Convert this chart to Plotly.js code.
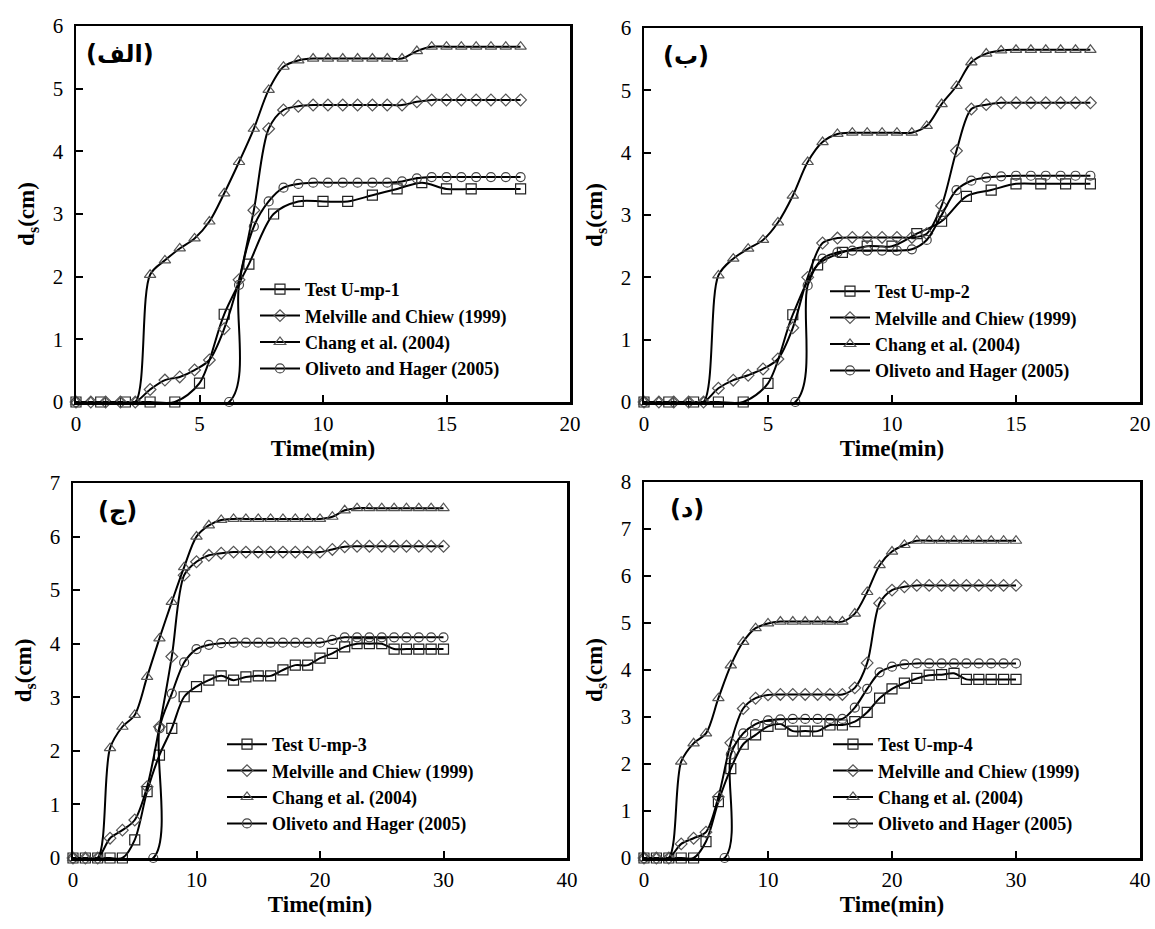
<!DOCTYPE html>
<html>
<head>
<meta charset="utf-8">
<script src="https://cdn.plot.ly/plotly-3.0.1.min.js"></script>
<style>html,body{margin:0;padding:0;background:#fff;}</style>
</head>
<body>
<div id="chart" style="width:1155px;height:929px;"></div>
<script>
// ---------- DATA ----------
const seriesNames = ["Melville and Chiew (1999)", "Chang et al. (2004)", "Oliveto and Hager (2005)"];
const testNames = ["Test U-mp-1", "Test U-mp-2", "Test U-mp-3", "Test U-mp-4"];
const panelLabels = ["(الف)", "(ب)", "(ج)", "(د)"];

// Panel 1 (الف)
const tModel1 = [0,0.6,1.2,1.8,2.4,3,3.6,4.2,4.8,5.4,6,6.6,7.2,7.8,8.4,9,9.6,10.2,10.8,11.4,12,12.6,13.2,13.8,14.4,15,15.6,16.2,16.8,17.4,18];
const melville1 = [0,0,0,0,0,0.2,0.35,0.4,0.51,0.67,1.17,1.95,3.06,4.36,4.66,4.72,4.74,4.74,4.74,4.74,4.74,4.74,4.74,4.79,4.82,4.82,4.82,4.82,4.82,4.82,4.82];
const chang1 = [0,0,0,0,0,2.03,2.26,2.45,2.61,2.88,3.33,3.83,4.36,4.98,5.35,5.45,5.48,5.48,5.48,5.48,5.48,5.48,5.48,5.6,5.67,5.67,5.67,5.67,5.67,5.67,5.67];
const tOliveto1 = [0,6.2,6.6,7.2,7.8,8.4,9,9.6,10.2,10.8,11.4,12,12.6,13.2,13.8,14.4,15,15.6,16.2,16.8,17.4,18];
const oliveto1 = [0,0,1.87,2.8,3.2,3.42,3.48,3.5,3.5,3.5,3.5,3.5,3.5,3.52,3.57,3.59,3.59,3.59,3.59,3.59,3.59,3.59];
const tTest1 = [0,1,2,3,4,5,6,7,8,9,10,11,12,13,14,15,16,18];
const test1 = [0,0,0,0,0,0.3,1.4,2.2,3.0,3.2,3.2,3.2,3.3,3.4,3.5,3.4,3.4,3.4];

// Panel 2 (ب)
const tModel2 = [0,0.6,1.2,1.8,2.4,3,3.6,4.2,4.8,5.4,6,6.6,7.2,7.8,8.4,9,9.6,10.2,10.8,11.4,12,12.6,13.2,13.8,14.4,15,15.6,16.2,16.8,17.4,18];
const melville2 = [0,0,0,0,0,0.22,0.35,0.43,0.53,0.69,1.19,2.0,2.55,2.63,2.64,2.64,2.64,2.64,2.64,2.7,3.15,4.03,4.7,4.77,4.8,4.8,4.8,4.8,4.8,4.8,4.8];
const chang2 = [0,0,0,0,0,2.03,2.3,2.46,2.6,2.88,3.31,3.85,4.17,4.3,4.32,4.32,4.32,4.32,4.32,4.43,4.78,5.07,5.45,5.59,5.64,5.65,5.65,5.65,5.65,5.65,5.65];
const tOliveto2 = [0,6.1,6.6,7.2,7.8,8.4,9,9.6,10.2,10.8,11.4,12,12.6,13.2,13.8,14.4,15,15.6,16.2,16.8,17.4,18];
const oliveto2 = [0,0,1.87,2.3,2.4,2.43,2.43,2.43,2.43,2.45,2.6,3.0,3.4,3.55,3.6,3.62,3.63,3.63,3.63,3.63,3.63,3.63];
const tTest2 = [0,1,2,3,4,5,6,7,8,9,10,11,12,13,14,15,16,17,18];
const test2 = [0,0,0,0,0,0.3,1.4,2.2,2.4,2.5,2.5,2.7,2.9,3.3,3.4,3.5,3.5,3.5,3.5];

// Panel 3 (ج)
const tModel3 = [0,1,2,3,4,5,6,7,8,9,10,11,12,13,14,15,16,17,18,19,20,21,22,23,24,25,26,27,28,29,30];
const melville3 = [0,0,0,0.37,0.52,0.71,1.33,2.45,3.76,5.28,5.53,5.65,5.69,5.71,5.71,5.71,5.71,5.71,5.71,5.71,5.71,5.76,5.81,5.82,5.82,5.82,5.82,5.82,5.82,5.82,5.82];
const chang3 = [0,0,0,2.05,2.45,2.67,3.38,4.1,4.78,5.43,6.0,6.21,6.31,6.33,6.33,6.33,6.33,6.33,6.33,6.33,6.33,6.37,6.49,6.53,6.53,6.53,6.53,6.53,6.53,6.53,6.53];
const tOliveto3 = [0,6.5,7,8,9,10,11,12,13,14,15,16,17,18,19,20,21,22,23,24,25,26,27,28,29,30];
const oliveto3 = [0,0,2.42,3.07,3.65,3.9,3.98,4.01,4.02,4.02,4.02,4.02,4.02,4.02,4.02,4.02,4.07,4.12,4.12,4.12,4.12,4.12,4.12,4.12,4.12,4.12];
const tTest3 = [0,1,2,3,4,5,6,7,8,9,10,11,12,13,14,15,16,17,18,19,20,21,22,23,24,25,26,27,28,29,30];
const test3 = [0,0,0,0,0,0.34,1.24,1.92,2.42,3.01,3.2,3.32,3.4,3.32,3.38,3.4,3.4,3.51,3.6,3.6,3.73,3.82,3.94,4.0,4.0,4.0,3.9,3.9,3.9,3.9,3.9];

// Panel 4 (د)
const tModel4 = [0,1,2,3,4,5,6,7,8,9,10,11,12,13,14,15,16,17,18,19,20,21,22,23,24,25,26,27,28,29,30];
const melville4 = [0,0,0,0.3,0.42,0.55,1.3,2.45,3.18,3.4,3.47,3.48,3.48,3.48,3.48,3.48,3.48,3.62,4.15,5.42,5.7,5.77,5.8,5.8,5.8,5.8,5.8,5.8,5.8,5.8,5.8];
const chang4 = [0,0,0,2.05,2.44,2.65,3.4,4.1,4.6,4.89,4.99,5.03,5.03,5.03,5.03,5.03,5.03,5.2,5.66,6.23,6.52,6.66,6.75,6.75,6.75,6.75,6.75,6.75,6.75,6.75,6.75];
const tOliveto4 = [0,6.5,7,8,9,10,11,12,13,14,15,16,17,18,19,20,21,22,23,24,25,26,27,28,29,30];
const oliveto4 = [0,0,2.2,2.65,2.85,2.93,2.95,2.96,2.96,2.96,2.96,2.96,3.2,3.6,3.95,4.07,4.12,4.14,4.14,4.14,4.14,4.14,4.14,4.14,4.14,4.14];
const tTest4 = [0,1,2,3,4,5,6,7,8,9,10,11,12,13,14,15,16,17,18,19,20,21,22,23,24,25,26,27,28,29,30];
const test4 = [0,0,0,0,0,0.35,1.2,1.9,2.42,2.62,2.8,2.85,2.7,2.7,2.7,2.83,2.83,2.9,3.1,3.4,3.6,3.72,3.82,3.89,3.9,3.93,3.8,3.8,3.8,3.8,3.8];

const xTicks12 = [0,5,10,15,20];
const xTicks34 = [0,10,20,30,40];

// ---------- BUILD ----------
const SERIF = "Liberation Serif, 'Times New Roman', serif";
const panels = [
  {tm: tModel1, mel: melville1, ch: chang1, to: tOliveto1, ol: oliveto1, tt: tTest1, te: test1, xmax: 20, ymax: 6, xt: xTicks12},
  {tm: tModel2, mel: melville2, ch: chang2, to: tOliveto2, ol: oliveto2, tt: tTest2, te: test2, xmax: 20, ymax: 6, xt: xTicks12},
  {tm: tModel3, mel: melville3, ch: chang3, to: tOliveto3, ol: oliveto3, tt: tTest3, te: test3, xmax: 40, ymax: 7, xt: xTicks34},
  {tm: tModel4, mel: melville4, ch: chang4, to: tOliveto4, ol: oliveto4, tt: tTest4, te: test4, xmax: 40, ymax: 8, xt: xTicks34}
];

// pixel geometry of each plot box: [left, right, top, bottom]
const W = 1155, H = 929;
const boxes = [[76,570,26,402],[644,1140,28,402],[73,567,483,858],[644,1140,482,858]];
const legendPos = [[255,271],[825,273],[222,726],[828,726]];
const labelPos = [[120,54],[686,56],[117,511],[687,509]];

const traces = [];
const layout = {
  width: W, height: H,
  margin: {l:0, r:0, t:0, b:0},
  paper_bgcolor: '#fff', plot_bgcolor: '#fff',
  showlegend: true,
  annotations: []
};

function mk(x, y, name, symbol, size, idx, legendId, mcol) {
  return {
    type: 'scatter', mode: 'lines+markers', x: x, y: y, name: name,
    xaxis: idx === 0 ? 'x' : 'x' + (idx + 1),
    yaxis: idx === 0 ? 'y' : 'y' + (idx + 1),
    legend: legendId,
    cliponaxis: false,
    line: {color: '#000', width: 2, shape: 'spline', smoothing: 0.9},
    marker: {symbol: symbol, size: size, color: mcol, line: {width: 1.2, color: mcol}}
  };
}

panels.forEach((p, i) => {
  const legendId = i === 0 ? 'legend' : 'legend' + (i + 1);
  traces.push(mk(p.tt, p.te, testNames[i], 'square-open', 10, i, legendId, '#222'));
  traces.push(mk(p.tm, p.mel, seriesNames[0], 'diamond-open', 9, i, legendId, '#555'));
  traces.push(mk(p.tm, p.ch, seriesNames[1], 'triangle-up-open', 10, i, legendId, '#555'));
  traces.push(mk(p.to, p.ol, seriesNames[2], 'circle-open', 9, i, legendId, '#444'));

  const b = boxes[i];
  const xk = i === 0 ? 'xaxis' : 'xaxis' + (i + 1);
  const yk = i === 0 ? 'yaxis' : 'yaxis' + (i + 1);
  const ya = i === 0 ? 'y' : 'y' + (i + 1);
  const xa = i === 0 ? 'x' : 'x' + (i + 1);
  layout[xk] = {
    domain: [b[0] / W, b[1] / W], anchor: ya,
    range: [0, p.xmax], tickvals: p.xt, ticks: 'inside', ticklen: 7, tickwidth: 2, tickcolor: '#000',
    showline: true, linewidth: 2.5, linecolor: '#000', mirror: true,
    showgrid: false, zeroline: false, automargin: false,
    ticklabelstandoff: 1,
    tickfont: {family: SERIF, size: 21, color: '#000'},
    title: {text: '<b>Time(min)</b>', font: {family: SERIF, size: 23, color: '#000'}, standoff: 2}
  };
  const yvals = [];
  for (let v = 0; v <= p.ymax; v++) yvals.push(v);
  layout[yk] = {
    domain: [1 - b[3] / H, 1 - b[2] / H], anchor: xa,
    range: [0, p.ymax], tickvals: yvals, ticks: 'inside', ticklen: 7, tickwidth: 2, tickcolor: '#000',
    showline: true, linewidth: 2.5, linecolor: '#000', mirror: true,
    showgrid: false, zeroline: false, automargin: false,
    ticklabelstandoff: 6,
    tickfont: {family: SERIF, size: 21, color: '#000'},
    title: {text: '<b>d<sub>s</sub>(cm)</b>', font: {family: SERIF, size: 23, color: '#000'}, standoff: 12}
  };
  const lp = legendPos[i];
  layout[legendId] = {
    x: lp[0] / W, y: 1 - lp[1] / H, xanchor: 'left', yanchor: 'top',
    bgcolor: 'rgba(0,0,0,0)', borderwidth: 0,
    font: {family: SERIF, size: 18, color: '#000', weight: 'bold'},
    itemwidth: 40, tracegroupgap: 0
  };
  const lb = labelPos[i];
  layout.annotations.push({
    xref: 'paper', yref: 'paper', x: lb[0] / W, y: 1 - lb[1] / H,
    xanchor: 'center', yanchor: 'middle',
    text: panelLabels[i], showarrow: false,
    font: {family: "'DejaVu Sans', sans-serif", size: 24, color: '#000', weight: 'bold'}
  });
});

Plotly.newPlot('chart', traces, layout, {displayModeBar: false, staticPlot: true});
</script>
</body>
</html>
